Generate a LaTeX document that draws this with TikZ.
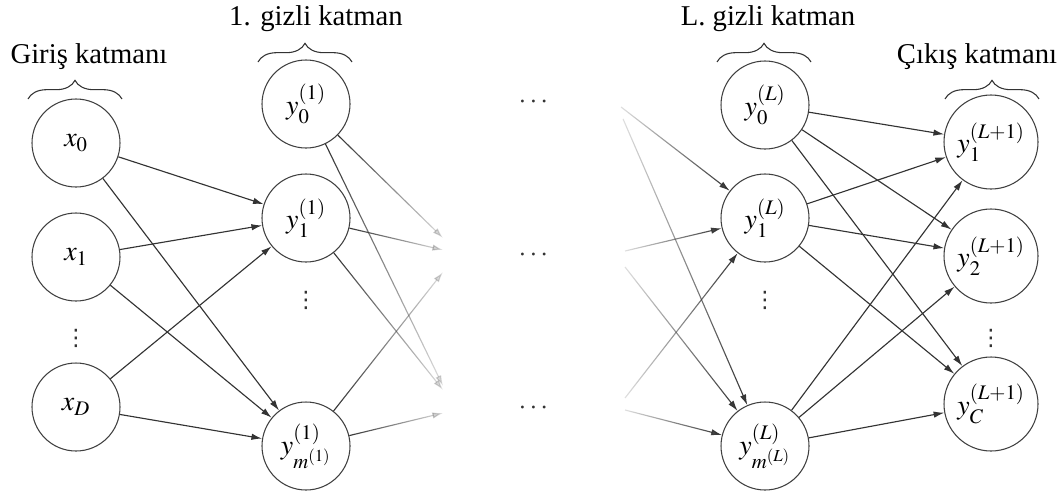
\documentclass[tikz,border=0pt]{standalone}
\usepackage{amsmath}
\usepackage{amssymb}
\usepackage{mathptmx}
\usepackage{fontspec}
\setmainfont{Liberation Serif}
\newfontfamily\dotsfont{DejaVu Sans}
\usepackage{tikz}
\usetikzlibrary{arrows.meta,decorations.pathreplacing,fadings}

\tikzfading[name=fadeout east, left color=transparent!0, right color=transparent!85]
\tikzfading[name=fadeout west, left color=transparent!85, right color=transparent!0]

\begin{document}
\begin{tikzpicture}[x=0.75pt,y=0.75pt,yscale=-1,xscale=1,
  neuron/.style={draw=black!75, line width=0.8pt, circle, minimum size=66pt, inner sep=0pt, font=\fontsize{21}{25}\selectfont},
  outneuron/.style={neuron, minimum size=70.5pt},
  dotsnode/.style={inner sep=0.75pt, text=black!80, font=\dotsfont\fontsize{17}{20}\selectfont},
  middots/.style={inner sep=0.75pt, text=black!80, font=\fontsize{21}{25}\selectfont},
  layername/.style={inner sep=0.75pt, font=\fontsize{21.5}{26}\selectfont},
  layerbrace/.style={draw=black!80, line width=0.8pt, decorate, decoration={brace, amplitude=14pt}},
  conn/.style={draw=black!80, line width=0.85pt, -{Latex[length=8pt,width=4.8pt]}},
  faderight/.style={conn, path fading=fadeout east},
  fadeleft/.style={conn, path fading=fadeout west}]
\useasboundingbox (0,0) rectangle (1063,497);

%Input layer
\node [neuron] (x0) at (76,143) {$x_0$};
\node [neuron] (x1) at (76,257) {$x_1$};
\node [dotsnode] (xdots) at (76,338) {⋮};
\node [neuron] (xD) at (76,407) {$x_D$};

%First hidden layer
\node [neuron] (y01) at (306,104) {$y_0^{(1)}$};
\node [neuron] (y11) at (306,218) {$y_1^{(1)}$};
\node [dotsnode] (ydots1) at (306,300) {⋮};
\node [neuron] (ym1) at (306,446) {$y_{m^{(1)}}^{(1)}$};

%Middle dots
\node [middots] (mid0) at (535,102) {$\cdots$};
\node [middots] (mid1) at (535,255) {$\cdots$};
\node [middots] (mid2) at (535,408) {$\cdots$};

%Last hidden layer
\node [neuron] (y0L) at (765,105) {$y_0^{(L)}$};
\node [neuron] (y1L) at (765,218) {$y_1^{(L)}$};
\node [dotsnode] (ydotsL) at (765,300) {⋮};
\node [neuron] (ymL) at (765,446) {$y_{m^{(L)}}^{(L)}$};

%Output layer
\node [outneuron] (o1) at (991,142) {$y_1^{(L+1)}$};
\node [outneuron] (o2) at (991,256) {$y_2^{(L+1)}$};
\node [dotsnode] (odots) at (991,338) {⋮};
\node [outneuron] (oC) at (991,404) {$y_C^{(L+1)}$};

% Text Node
\node [layername] (inname) at (89,57) {Giriş katmanı};
% Text Node
\node [layername] (h1name) at (316,19) {1. gizli katman};
% Text Node
\node [layername] (hLname) at (768,19) {L. gizli katman};
% Text Node
\node [layername] (outname) at (977,57) {Çıkış katmanı};

%Braces
\draw [layerbrace] (28,99) -- (122,99);
\draw [layerbrace] (258,62) -- (352,62);
\draw [layerbrace] (717,62) -- (811,62);
\draw [layerbrace] (945,99) -- (1039,99);

%Straight Lines: input to first hidden
\draw [conn] (x0) -- (y11);
\draw [conn] (x0) -- (ym1);
\draw [conn] (x1) -- (y11);
\draw [conn] (x1) -- (ym1);
\draw [conn] (xD) -- (y11);
\draw [conn] (xD) -- (ym1);

%Faded ends of the first hidden layer
\coordinate (a0) at (443,238);
\coordinate (a1) at (443,250);
\coordinate (a2) at (443,272);
\coordinate (b0) at (443,386);
\coordinate (b1) at (443,390);
\coordinate (b2) at (443,413);
\draw [faderight] (y01) -- (a0);
\draw [faderight] (y01) -- (b0);
\draw [faderight] (y11) -- (a1);
\draw [faderight] (y11) -- (b1);
\draw [faderight] (ym1) -- (a2);
\draw [faderight] (ym1) -- (b2);

%Faded starts into the last hidden layer
\coordinate (c0) at (621,107);
\coordinate (c1) at (623,119);
\coordinate (c2) at (625,251);
\coordinate (c3) at (625,267);
\coordinate (c4) at (625,398);
\coordinate (c5) at (625,410);
\draw [fadeleft] (c0) -- (y1L);
\draw [fadeleft] (c1) -- (ymL);
\draw [fadeleft] (c2) -- (y1L);
\draw [fadeleft] (c3) -- (ymL);
\draw [fadeleft] (c4) -- (y1L);
\draw [fadeleft] (c5) -- (ymL);

%Straight Lines: last hidden to output
\draw [conn] (y0L) -- (o1);
\draw [conn] (y0L) -- (o2);
\draw [conn] (y0L) -- (oC);
\draw [conn] (y1L) -- (o1);
\draw [conn] (y1L) -- (o2);
\draw [conn] (y1L) -- (oC);
\draw [conn] (ymL) -- (o1);
\draw [conn] (ymL) -- (o2);
\draw [conn] (ymL) -- (oC);

\end{tikzpicture}
\end{document}
